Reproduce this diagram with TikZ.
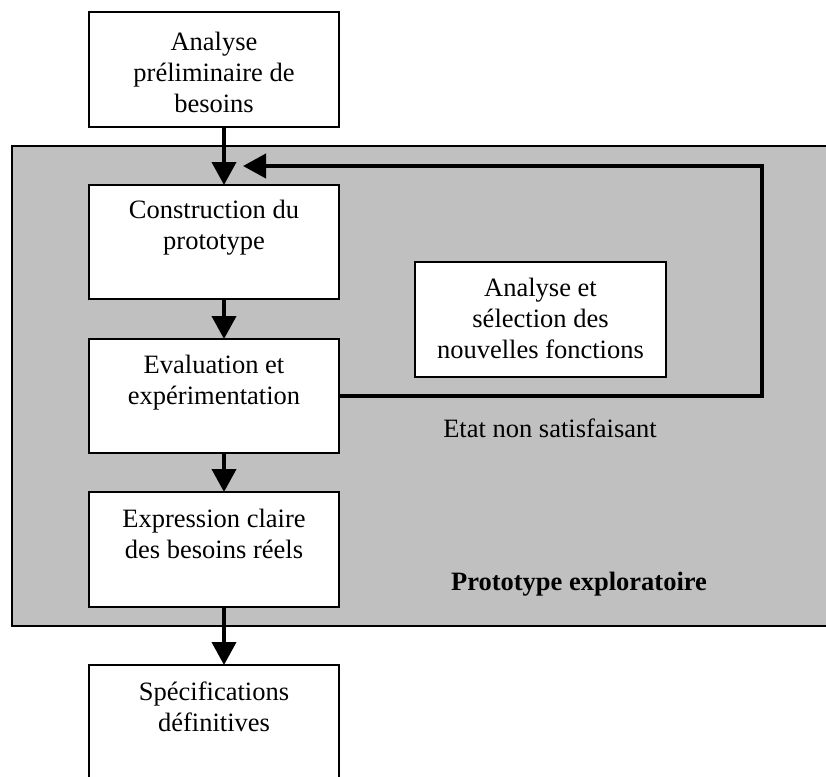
\documentclass[tikz,border=0pt]{standalone}
\usepackage{fontspec}
\setmainfont{Liberation Serif}
\usetikzlibrary{arrows.meta,calc}
\definecolor{protogray}{HTML}{C0C0C0}
\newcommand{\bxtext}[4]{\parbox[c][#1pt][t]{#2pt}{\centering\fontsize{26.5}{31}\selectfont\rule{0pt}{#3pt}#4\par}}
\tikzset{
  stepbox/.style={draw=black, fill=white, line width=1.5pt, inner sep=0pt, outer sep=0pt},
  flow/.style={line width=4pt, line join=miter, -{Triangle[width=24pt,length=23pt]}},
  region/.style={draw=black, fill=protogray, line width=1.5pt, inner sep=0pt, minimum width=838pt, minimum height=480pt},
  plain/.style={inner sep=0pt, font=\fontsize{26.5}{31}\selectfont, anchor=base}
}
\begin{document}
\begin{tikzpicture}[x=1pt,y=-1pt]
\clip (0,0) rectangle (826,776);
\fill[white] (0,0) rectangle (826,776);
% grey region
\node[region] (proto) at (431,386) {};
% boxes
\node[stepbox] (top)  at (214,69.5)  {\bxtext{115}{250}{38}{Analyse\\préliminaire de\\besoins}};
\node[stepbox] (cons) at (214,242)   {\bxtext{114}{250}{33}{Construction du\\prototype}};
\node[stepbox] (eval) at (214,396)   {\bxtext{114}{250}{34}{Evaluation et\\expérimentation}};
\node[stepbox] (expr) at (214,549.5) {\bxtext{115}{250}{35}{Expression claire\\des besoins réels}};
\node[stepbox] (spec) at (214,722.5) {\bxtext{115}{250}{35}{Spécifications\\définitives}};
\node[stepbox] (sel)  at (540.5,319.5) {\bxtext{115}{251}{34}{Analyse et\\sélection des\\nouvelles fonctions}};
% labels
\node[plain] (etat) at (550,437) {Etat non satisfaisant};
\node[plain, font=\fontsize{26.5}{31}\selectfont\bfseries] (ptitle) at (579,590) {Prototype exploratoire};
% connectors
\coordinate (ax) at (224,0);
\coordinate (loopc) at (762,166);
\coordinate (looptip) at (243,166);
\draw[flow] (top.south -| ax) -- (cons.north -| ax);
\draw[flow] (cons.south -| ax) -- (eval.north -| ax);
\draw[flow] (eval.south -| ax) -- (expr.north -| ax);
\draw[flow] (expr.south -| ax) -- (spec.north -| ax);
\draw[flow] (eval.east) -| (loopc) -- (looptip);
\end{tikzpicture}
\end{document}
